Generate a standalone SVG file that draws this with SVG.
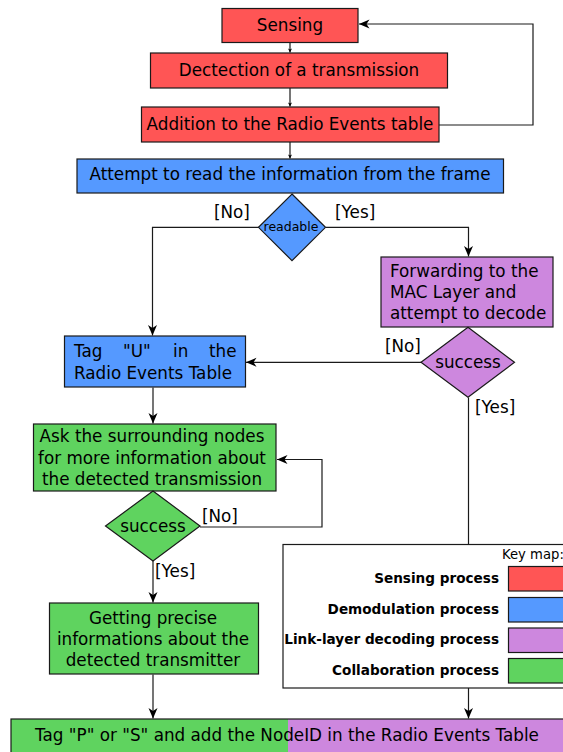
<svg xmlns="http://www.w3.org/2000/svg" width="563" height="752" viewBox="0 0 563 752">
  <defs>
    <style>
      text { font-family: "DejaVu Sans", "Liberation Sans", sans-serif; fill: #000; }
      .t { font-size: 16.8px; }
      .c { text-anchor: middle; }
      .lbl { font-size: 16.8px; }
      .key { font-size: 13.6px; font-weight: bold; text-anchor: end; }
      .box { stroke: #1a1a1a; stroke-width: 1.2; }
      .red { fill: #ff5555; }
      .blue { fill: #5599ff; }
      .purple { fill: #cd87de; }
      .green { fill: #5fd35f; }
      .wire { fill: none; stroke: #1a1a1a; stroke-width: 1.2; }
    </style>
    <marker id="arrow" markerUnits="userSpaceOnUse" viewBox="-11 -5 12 10" refX="0" refY="0" markerWidth="12" markerHeight="10" orient="auto">
      <path d="M0,0 L-10.5,-4.5 L-7.5,0 L-10.5,4.5 Z" fill="#000"/>
    </marker>
    <marker id="tick" markerUnits="userSpaceOnUse" viewBox="-5 -3 6 6" refX="0" refY="0" markerWidth="6" markerHeight="6" orient="auto">
      <path d="M0,0 L-4,-2 L-3,0 L-4,2 Z" fill="#000"/>
    </marker>
  </defs>

  <!-- connectors -->
  <g id="connectors">
    <path class="wire" d="M290,42.5 V52.5" marker-end="url(#tick)"/>
    <path class="wire" d="M290,88 V106.5" marker-end="url(#tick)"/>
    <path class="wire" d="M290,142 V158.5" marker-end="url(#tick)"/>
    <path class="wire" d="M439,125 H533 V24 H359" marker-end="url(#arrow)"/>
    <path class="wire" d="M259,227.3 H152.5 V335.5" marker-end="url(#arrow)"/>
    <path class="wire" d="M326,227.3 H468.5 V256.5" marker-end="url(#arrow)"/>
    <path class="wire" d="M421,362.3 H246" marker-end="url(#arrow)"/>
    <path class="wire" d="M468.5,397.5 V544.5"/>
    <path class="wire" d="M468.5,688 V718.5" marker-end="url(#arrow)"/>
    <path class="wire" d="M153,387.5 V423.5" marker-end="url(#arrow)"/>
    <path class="wire" d="M200,527 H322 V459.5 H277" marker-end="url(#arrow)"/>
    <path class="wire" d="M153,561 V602.5" marker-end="url(#arrow)"/>
    <path class="wire" d="M153,674.5 V718.5" marker-end="url(#arrow)"/>
  </g>

  <!-- decision labels -->
  <g id="edge-labels" class="lbl">
    <text x="214" y="218">[No]</text>
    <text x="335" y="218">[Yes]</text>
    <text x="385" y="352">[No]</text>
    <text x="475" y="413">[Yes]</text>
    <text x="202" y="522">[No]</text>
    <text x="155" y="577">[Yes]</text>
  </g>

  <g id="sensing">
    <rect class="box red" x="222" y="8.5" width="136" height="34"/>
    <text class="t c" x="290" y="31">Sensing</text>
  </g>

  <g id="detection">
    <rect class="box red" x="150.5" y="53" width="297" height="35"/>
    <text class="t c" x="299" y="76">Dectection of a transmission</text>
  </g>

  <g id="addition">
    <rect class="box red" x="141.5" y="107" width="297.5" height="35"/>
    <text class="t c" x="290" y="130">Addition to the Radio Events table</text>
  </g>

  <g id="attempt-read">
    <rect class="box blue" x="77" y="159" width="426.5" height="34"/>
    <text class="t c" x="290" y="180">Attempt to read the information from the frame</text>
  </g>

  <g id="readable">
    <polygon class="box blue" points="292,194 325.5,227.3 292,260.7 258.5,227.3"/>
    <text class="c" x="291" y="231" font-size="12.5">readable</text>
  </g>

  <g id="forwarding">
    <rect class="box purple" x="381" y="257" width="172" height="70"/>
    <text class="t" x="390" y="277">Forwarding to the</text>
    <text class="t" x="390" y="298">MAC Layer and</text>
    <text class="t" x="390" y="319">attempt to decode</text>
  </g>

  <g id="decode-success">
    <polygon class="box purple" points="468,327.3 514.5,362.3 468,397.3 421,362.3"/>
    <text class="t c" x="468" y="368">success</text>
  </g>

  <g id="tag-u">
    <rect class="box blue" x="64.5" y="336" width="181" height="51"/>
    <text class="t" y="357"><tspan x="74">Tag</tspan><tspan x="123">"U"</tspan><tspan x="173">in</tspan><tspan x="209">the</tspan></text>
    <text class="t" x="74" y="378.5">Radio Events Table</text>
  </g>

  <g id="ask-nodes">
    <rect class="box green" x="33.5" y="424" width="242.5" height="67"/>
    <text class="t c" x="152" y="442">Ask the surrounding nodes</text>
    <text class="t c" x="152" y="463.5">for more information about</text>
    <text class="t c" x="152" y="484.5">the detected transmission</text>
  </g>

  <g id="collab-success">
    <polygon class="box green" points="153,491 200,526 153,561 105.5,526"/>
    <text class="t c" x="153" y="532">success</text>
  </g>

  <g id="precise-info">
    <rect class="box green" x="49.5" y="603" width="209" height="71"/>
    <text class="t c" x="153" y="623.5">Getting precise</text>
    <text class="t c" x="153" y="644.5">informations about the</text>
    <text class="t c" x="153" y="665.5">detected transmitter</text>
  </g>

  <g id="final-tag">
    <rect class="green" x="11" y="719" width="277" height="40"/>
    <rect class="purple" x="288" y="719" width="285" height="40"/>
    <rect fill="none" class="box" x="11" y="719" width="562" height="40"/>
    <text class="t c" x="287" y="741">Tag "P" or "S" and add the NodeID in the Radio Events Table</text>
  </g>

  <g id="key-map">
    <rect class="box" fill="#fff" x="283" y="544.5" width="290" height="143.5"/>
    <text x="502" y="558.5" font-size="13.2">Key map:</text>
    <text class="key" x="499" y="583">Sensing process</text>
    <rect class="box red" x="508.5" y="566.5" width="65" height="24.5"/>
    <text class="key" x="499" y="614">Demodulation process</text>
    <rect class="box blue" x="508.5" y="597.5" width="65" height="24.5"/>
    <text class="key" x="499" y="643.5">Link-layer decoding process</text>
    <rect class="box purple" x="508.5" y="628" width="65" height="24.5"/>
    <text class="key" x="499" y="674.5">Collaboration process</text>
    <rect class="box green" x="508.5" y="658.5" width="65" height="24.5"/>
  </g>
</svg>
